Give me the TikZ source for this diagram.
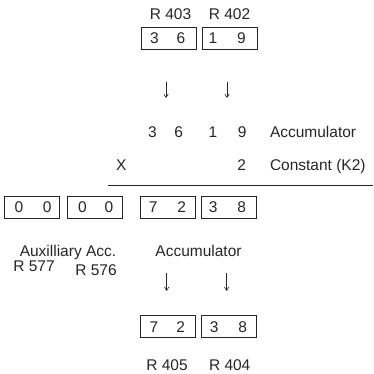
\documentclass[tikz,border=0pt]{standalone}
\usepackage{fontspec}
\setmainfont{Liberation Sans}
\usetikzlibrary{arrows.meta}
\begin{document}
\begin{tikzpicture}[x=1pt,y=-1pt,
  every node/.style={inner sep=0pt,outer sep=0pt,font=\fontsize{15.5}{18}\selectfont,text=black!85},
  regbox/.style={draw=black!85,line width=0.9pt,minimum width=55pt,minimum height=22pt},
  lbl/.style={anchor=base},
  lblw/.style={anchor=base west},
  dig/.style={anchor=center},
  flow/.style={draw=black!85,line width=0.6pt,-{Straight Barb[length=3.5pt,width=4.5pt]}}]
\useasboundingbox (0,0) rectangle (373,374);
% top registers
\node[lbl] (l403) at (170.5,19.3) {R 403};
\node[lbl] (l402) at (229.5,19.3) {R 402};
\node[regbox] (b403) at (169,38.5) {};
\node[regbox] (b402) at (229.5,38.5) {};
\node[dig] (t3) at (154.5,38.5) {3};
\node[dig] (t6) at (181,38.5) {6};
\node[dig] (t1) at (213,38.5) {1};
\node[dig] (t9) at (241.5,38.5) {9};
% top arrows
\coordinate (a1s) at (166,81.7); \coordinate (a1e) at (166,98);
\coordinate (a2s) at (227,81.7); \coordinate (a2e) at (227,98);
\draw[flow] (a1s) -- (a1e);
\draw[flow] (a2s) -- (a2e);
% accumulator row
\node[lbl] (m3) at (152.5,137.7) {3};
\node[lbl] (m6) at (178.7,137.7) {6};
\node[lbl] (m1) at (213,137.7) {1};
\node[lbl] (m9) at (242.3,137.7) {9};
\node[lblw] (acc1) at (270,137.7) {Accumulator};
% constant row
\node[lbl] (mx) at (121.3,170) {X};
\node[lbl] (m2) at (241.7,170) {2};
\node[lblw] (const) at (270,170) {Constant (K2)};
\coordinate (rl) at (108,185.7); \coordinate (rr) at (373,185.7);
\draw[draw=black!85,line width=0.9pt] (rl) -- (rr);
% result row
\node[regbox] (b577) at (32,207) {};
\node[regbox] (b576) at (94.7,207) {};
\node[regbox] (bacch) at (168,207) {};
\node[regbox] (baccl) at (229,207) {};
\node[dig] (r01) at (19,207) {0};
\node[dig] (r02) at (47.3,207) {0};
\node[dig] (r03) at (82.5,207) {0};
\node[dig] (r04) at (109,207) {0};
\node[dig] (r7) at (153.3,207) {7};
\node[dig] (r2) at (181.7,207) {2};
\node[dig] (r3) at (213.3,207) {3};
\node[dig] (r8) at (241.7,207) {8};
\node[lbl] (aux) at (68,256.5) {Auxilliary Acc.};
\node[lbl] (acc2) at (198.5,256.5) {Accumulator};
\node[lbl] (l577) at (34,271.5) {R 577};
\node[lbl] (l576) at (96,275) {R 576};
% bottom arrows
\coordinate (a3s) at (166.7,273); \coordinate (a3e) at (166.7,291);
\coordinate (a4s) at (226.7,273); \coordinate (a4e) at (226.7,291);
\draw[flow] (a3s) -- (a3e);
\draw[flow] (a4s) -- (a4e);
% bottom registers
\node[regbox] (b405) at (168.3,326.7) {};
\node[regbox] (b404) at (229.3,326.7) {};
\node[dig] (s7) at (154,326.7) {7};
\node[dig] (s2) at (180.7,326.7) {2};
\node[dig] (s3) at (214.3,326.7) {3};
\node[dig] (s8) at (242.7,326.7) {8};
\node[lbl] (l405) at (167,370) {R 405};
\node[lbl] (l404) at (229.7,370) {R 404};
\end{tikzpicture}
\end{document}
